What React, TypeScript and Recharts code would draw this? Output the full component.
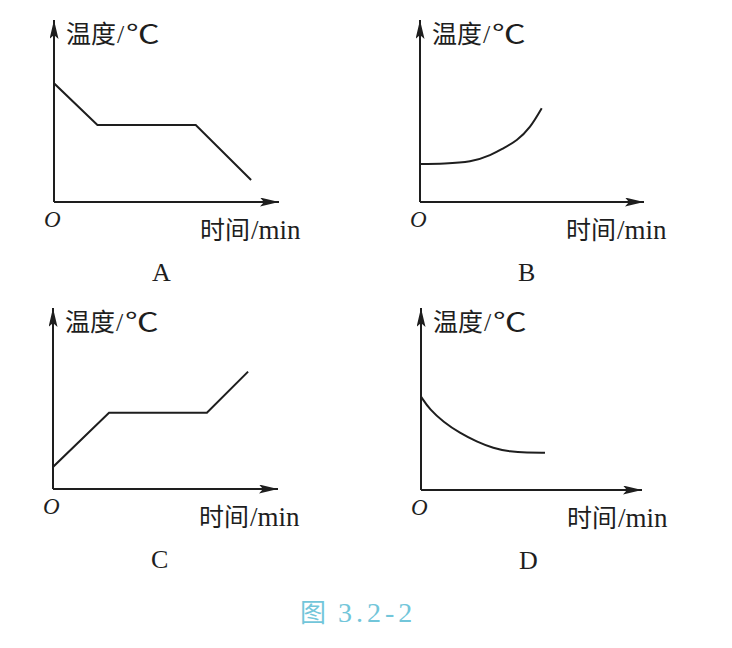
import { LineChart, Line, XAxis, YAxis } from "recharts";

// 温度-时间 curves, values (arbitrary units)
const timeA = [0, 1.93, 6.3, 8.76];
const tempA = [6.52, 4.23, 4.23, 1.21];

const timeB = [0, 1.1, 2.22, 3.11, 3.7, 4.3, 4.89, 5.41];
const tempB = [2.09, 2.12, 2.24, 2.58, 2.95, 3.41, 4.14, 5.15];

const timeC = [0, 2.49, 6.84, 8.67];
const tempC = [1.21, 4.19, 4.19, 6.45];

const timeD = [0, 0.4, 0.99, 1.73, 2.48, 3.21, 3.96, 4.7, 5.51];
const tempD = [5.13, 4.4, 3.75, 3.12, 2.65, 2.29, 2.1, 2.05, 2.05];

const panelLetters = ["A", "B", "C", "D"];
const yLabel = ["温度", "/", "℃"];
const xLabel = ["时间", "/min"];
const caption = "图 3.2-2";

const toRows = (t: number[], v: number[]) => t.map((x, i) => ({ t: x, v: v[i] }));

const INK = "#1e1e1e";
const PX_PER_UNIT = 22.5;
const Y_PX_PER_UNIT = 18.2;

const SERIF = '"Liberation Serif", "Noto Serif CJK SC", serif';
const CJK = '"Noto Sans CJK SC", sans-serif';

const panels = [
  { rows: toRows(timeA, tempA), curve: "linear", ox: 54, oy: 202, tipX: 279, tipY: 20 },
  { rows: toRows(timeB, tempB), curve: "natural", ox: 420, oy: 202, tipX: 644, tipY: 20 },
  { rows: toRows(timeC, tempC), curve: "linear", ox: 53, oy: 489, tipX: 278, tipY: 308 },
  { rows: toRows(timeD, tempD), curve: "basis", ox: 421, oy: 490, tipX: 642, tipY: 308 },
];

const txt: React.CSSProperties = {
  position: "absolute",
  fontFamily: SERIF,
  fontSize: 26,
  lineHeight: 1,
  color: INK,
  whiteSpace: "nowrap",
  transform: "translateY(-50%)",
};

const cjk: React.CSSProperties = { fontFamily: CJK, fontSize: 25, fontWeight: 400 };

const Panel = ({ p, letter }: { p: (typeof panels)[number]; letter: string }) => {
  const xLen = p.tipX - p.ox;
  const yLen = p.oy - p.tipY;
  return (
    <>
      <div style={{ position: "absolute", left: p.ox - 10, top: p.tipY - 10 }}>
        <LineChart
          width={xLen + 30}
          height={yLen + 20}
          data={p.rows}
          margin={{ top: 10, left: 9, right: 20, bottom: 9 }}
        >
          <XAxis
            type="number"
            dataKey="t"
            domain={[0, xLen / PX_PER_UNIT]}
            height={1}
            tick={false}
            tickLine={false}
            allowDataOverflow
            axisLine={{ stroke: INK, strokeWidth: 2, markerEnd: "url(#arrowHead)" }}
          />
          <YAxis
            type="number"
            domain={[0, yLen / Y_PX_PER_UNIT]}
            width={1}
            tick={false}
            tickLine={false}
            allowDataOverflow
            axisLine={{ stroke: INK, strokeWidth: 2, markerStart: "url(#arrowHead)" }}
          />
          <Line
            type={p.curve as any}
            dataKey="v"
            stroke={INK}
            strokeWidth={2}
            dot={false}
            isAnimationActive={false}
          />
        </LineChart>
      </div>

      <div style={{ ...txt, left: p.ox + 12, top: p.tipY + 14 }}>
        <span style={cjk}>{yLabel[0]}</span>
        <span style={{ margin: "0 2px 0 1px" }}>{yLabel[1]}</span>
        <span
          style={{
            ...cjk,
            display: "inline-block",
            transform: "scaleX(1.35)",
            transformOrigin: "left center",
          }}
        >
          {yLabel[2]}
        </span>
      </div>
      <div style={{ ...txt, left: p.ox - 10, top: p.oy + 17, fontStyle: "italic", fontSize: 23 }}>O</div>
      <div style={{ ...txt, left: p.ox + 146, top: p.oy + 28 }}>
        <span style={cjk}>{xLabel[0]}</span>
        <span style={{ fontSize: 27, marginLeft: 1 }}>{xLabel[1]}</span>
      </div>
      <div style={{ ...txt, left: p.ox + 98, top: p.oy + 71 }}>{letter}</div>
    </>
  );
};

export default function App() {
  return (
    <div
      style={{
        position: "absolute",
        left: 0,
        top: 0,
        width: 732,
        height: 648,
        background: "#fff",
        overflow: "hidden",
      }}
    >
      <svg width={0} height={0} style={{ position: "absolute" }}>
        <defs>
          <marker
            id="arrowHead"
            markerUnits="userSpaceOnUse"
            markerWidth={20}
            markerHeight={10}
            refX={19}
            refY={4.5}
            orient="auto-start-reverse"
          >
            <path d="M0,0 L19,4.5 L0,9 L4,4.5 Z" fill={INK} />
          </marker>
        </defs>
      </svg>

      {panels.map((p, i) => (
        <Panel key={i} p={p} letter={panelLetters[i]} />
      ))}

      <div style={{ ...txt, left: 300, top: 612, fontSize: 28, color: "#72c6da", letterSpacing: 4 }}>
        <span style={{ ...cjk, fontSize: 26 }}>{caption.slice(0, 1)}</span>
        <span style={{ marginLeft: 8 }}>{caption.slice(2)}</span>
      </div>
    </div>
  );
}
